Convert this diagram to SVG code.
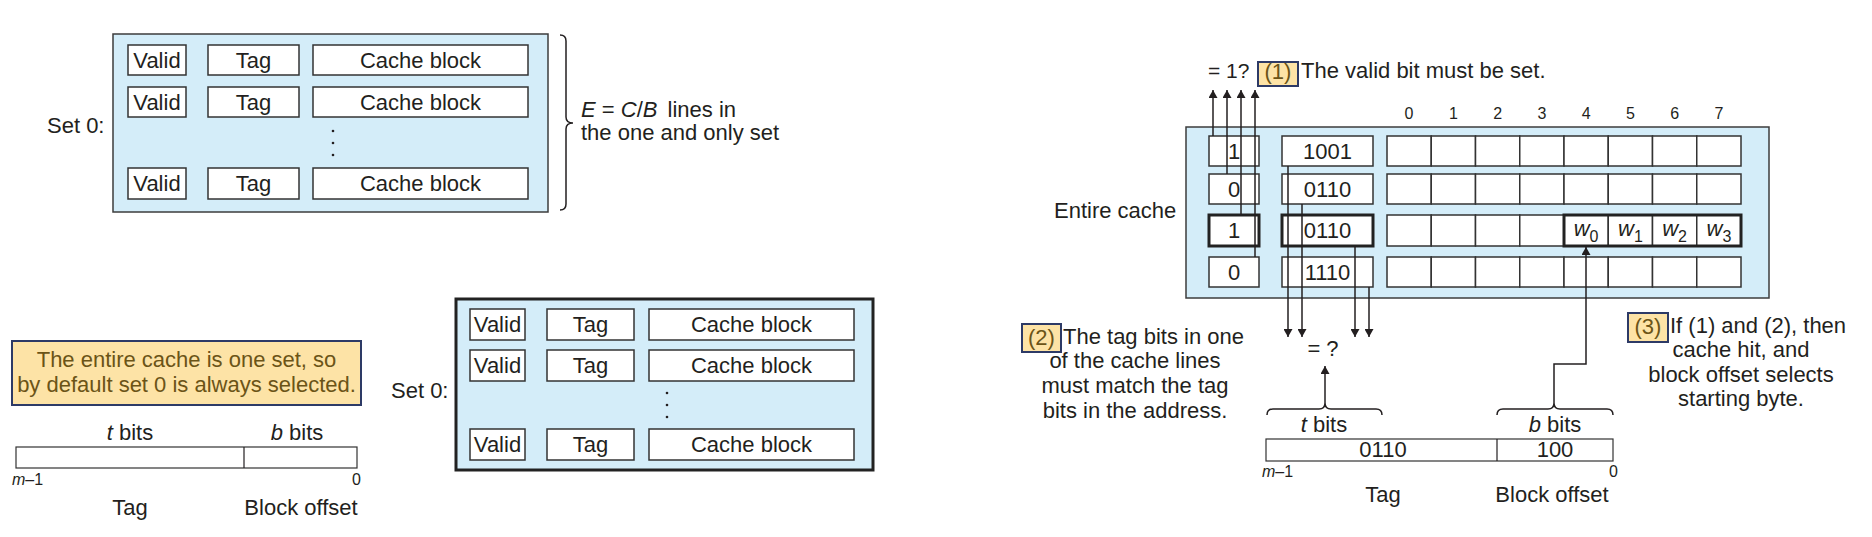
<svg xmlns="http://www.w3.org/2000/svg" width="1872" height="537" viewBox="0 0 1872 537">
<style>
text{font-family:"Liberation Sans",Arial,Helvetica,sans-serif;font-size:22px;fill:#231f20}
.m{text-anchor:middle}
.e{text-anchor:end}
.sm{font-size:16px}
.it{font-style:italic}
.blue{fill:#d4edf9;stroke:#3c3c3c;stroke-width:1.5}
.blueb{fill:#d4edf9;stroke:#222;stroke-width:3}
.cell{fill:#fff;stroke:#333;stroke-width:1.5}
.thick{fill:#fff;stroke:#222;stroke-width:3}
.thk{fill:none;stroke:#222;stroke-width:3}
.note{fill:#fde3a6;stroke:#2d3a66;stroke-width:2}
.nt{fill:#6b5417}
.ln{fill:none;stroke:#231f20;stroke-width:1.5}
.ar{fill:none;stroke:#231f20;stroke-width:1.5;marker-end:url(#ah)}
.dot{fill:#231f20}
</style>
<defs>
<marker id="ah" markerUnits="userSpaceOnUse" markerWidth="9" markerHeight="9" refX="8" refY="4.5" orient="auto">
<path d="M0,0 L8,4.5 L0,9 Z" fill="#231f20"/>
</marker>
</defs>
<rect width="1872" height="537" fill="#fff"/>

<!-- Top-left: fully associative set -->
<g id="set0-top">
<text x="47" y="133">Set 0:</text>
<rect class="blue" x="113" y="34" width="435" height="178"/>
<rect class="cell" x="128" y="45" width="58" height="30"/>
<rect class="cell" x="208" y="45" width="91" height="30"/>
<rect class="cell" x="313" y="45" width="215" height="30"/>
<text class="m" x="157" y="68">Valid</text>
<text class="m" x="253.5" y="68">Tag</text>
<text class="m" x="420.5" y="68">Cache block</text>
<rect class="cell" x="128" y="87" width="58" height="30"/>
<rect class="cell" x="208" y="87" width="91" height="30"/>
<rect class="cell" x="313" y="87" width="215" height="30"/>
<text class="m" x="157" y="110">Valid</text>
<text class="m" x="253.5" y="110">Tag</text>
<text class="m" x="420.5" y="110">Cache block</text>
<circle class="dot" cx="333" cy="131" r="1.3"/>
<circle class="dot" cx="333" cy="143" r="1.3"/>
<circle class="dot" cx="333" cy="155" r="1.3"/>
<rect class="cell" x="128" y="168" width="58" height="31"/>
<rect class="cell" x="208" y="168" width="91" height="31"/>
<rect class="cell" x="313" y="168" width="215" height="31"/>
<text class="m" x="157" y="191">Valid</text>
<text class="m" x="253.5" y="191">Tag</text>
<text class="m" x="420.5" y="191">Cache block</text>
</g>
<g id="brace-lines">
<path class="ln" d="M560,35 Q566,35 566,41 L566,117 Q566,123 573,123 Q566,123 566,129 L566,204 Q566,210 560,210"/>
<text x="581" y="117"><tspan class="it">E</tspan> = <tspan class="it">C</tspan>/<tspan class="it">B</tspan>  <tspan dx="4">lines in</tspan></text>
<text x="581" y="140">the one and only set</text>
</g>

<!-- Bottom-left: note and address -->
<g id="note-default">
<rect class="note" x="12" y="341" width="349" height="64"/>
<text class="m nt" x="186.5" y="367">The entire cache is one set, so</text>
<text class="m nt" x="186.5" y="392">by default set 0 is always selected.</text>
</g>
<g id="address-left">
<text class="m" x="130" y="440"><tspan class="it">t</tspan> bits</text>
<text class="m" x="297" y="440"><tspan class="it">b</tspan> bits</text>
<rect class="cell" x="16" y="447" width="341" height="21" style="stroke-width:1.2"/>
<line class="ln" x1="244" y1="447" x2="244" y2="468" style="stroke-width:1.2"/>
<text class="sm" x="12" y="485"><tspan class="it">m</tspan>–1</text>
<text class="sm e" x="361" y="485">0</text>
<text class="m" x="130" y="515">Tag</text>
<text class="m" x="301" y="515">Block offset</text>
</g>

<!-- Bottom-middle: set 0 -->
<g id="set0-bottom">
<text x="391" y="398">Set 0:</text>
<rect class="blueb" x="456" y="299" width="417" height="171"/>
<rect class="cell" x="470" y="309" width="55" height="31"/>
<rect class="cell" x="547" y="309" width="87" height="31"/>
<rect class="cell" x="649" y="309" width="205" height="31"/>
<text class="m" x="497.5" y="332">Valid</text>
<text class="m" x="590.5" y="332">Tag</text>
<text class="m" x="751.5" y="332">Cache block</text>
<rect class="cell" x="470" y="350" width="55" height="31"/>
<rect class="cell" x="547" y="350" width="87" height="31"/>
<rect class="cell" x="649" y="350" width="205" height="31"/>
<text class="m" x="497.5" y="373">Valid</text>
<text class="m" x="590.5" y="373">Tag</text>
<text class="m" x="751.5" y="373">Cache block</text>
<circle class="dot" cx="667" cy="393" r="1.3"/>
<circle class="dot" cx="667" cy="405" r="1.3"/>
<circle class="dot" cx="667" cy="417" r="1.3"/>
<rect class="cell" x="470" y="429" width="55" height="31"/>
<rect class="cell" x="547" y="429" width="87" height="31"/>
<rect class="cell" x="649" y="429" width="205" height="31"/>
<text class="m" x="497.5" y="452">Valid</text>
<text class="m" x="590.5" y="452">Tag</text>
<text class="m" x="751.5" y="452">Cache block</text>
</g>

<!-- Right: entire cache -->
<g id="step1-label">
<text x="1208" y="78" style="font-size:21px">= 1?</text>
<rect class="note" x="1258" y="62" width="40" height="24"/>
<text class="m nt" x="1278" y="79">(1)</text>
<text x="1301" y="78">The valid bit must be set.</text>
</g>
<g id="entire-cache">
<text x="1054" y="218">Entire cache</text>
<text class="m sm" x="1409" y="119">0</text>
<text class="m sm" x="1453.4" y="119">1</text>
<text class="m sm" x="1497.6" y="119">2</text>
<text class="m sm" x="1541.9" y="119">3</text>
<text class="m sm" x="1586.1" y="119">4</text>
<text class="m sm" x="1630.4" y="119">5</text>
<text class="m sm" x="1674.6" y="119">6</text>
<text class="m sm" x="1718.9" y="119">7</text>
<rect class="blue" x="1186" y="127" width="583" height="171"/>
<!-- row 1 -->
<rect class="cell" x="1209" y="136" width="50" height="30"/>
<rect class="cell" x="1282" y="136" width="91" height="30"/>
<g id="row1-cells">
<rect class="cell" x="1387" y="136" width="44.25" height="30"/>
<rect class="cell" x="1431.25" y="136" width="44.25" height="30"/>
<rect class="cell" x="1475.5" y="136" width="44.25" height="30"/>
<rect class="cell" x="1519.75" y="136" width="44.25" height="30"/>
<rect class="cell" x="1564" y="136" width="44.25" height="30"/>
<rect class="cell" x="1608.25" y="136" width="44.25" height="30"/>
<rect class="cell" x="1652.5" y="136" width="44.25" height="30"/>
<rect class="cell" x="1696.75" y="136" width="44.25" height="30"/>
</g>
<text class="m" x="1234" y="159">1</text>
<text class="m" x="1327.5" y="159">1001</text>
<!-- row 2 -->
<rect class="cell" x="1209" y="174" width="50" height="30"/>
<rect class="cell" x="1282" y="174" width="91" height="30"/>
<g id="row2-cells">
<rect class="cell" x="1387" y="174" width="44.25" height="30"/>
<rect class="cell" x="1431.25" y="174" width="44.25" height="30"/>
<rect class="cell" x="1475.5" y="174" width="44.25" height="30"/>
<rect class="cell" x="1519.75" y="174" width="44.25" height="30"/>
<rect class="cell" x="1564" y="174" width="44.25" height="30"/>
<rect class="cell" x="1608.25" y="174" width="44.25" height="30"/>
<rect class="cell" x="1652.5" y="174" width="44.25" height="30"/>
<rect class="cell" x="1696.75" y="174" width="44.25" height="30"/>
</g>
<text class="m" x="1234" y="197">0</text>
<text class="m" x="1327.5" y="197">0110</text>
<!-- row 3 (selected) -->
<rect class="thick" x="1209" y="215" width="50" height="31"/>
<rect class="thick" x="1282" y="215" width="91" height="31"/>
<g id="row3-cells">
<rect class="cell" x="1387" y="215" width="44.25" height="31"/>
<rect class="cell" x="1431.25" y="215" width="44.25" height="31"/>
<rect class="cell" x="1475.5" y="215" width="44.25" height="31"/>
<rect class="cell" x="1519.75" y="215" width="44.25" height="31"/>
<rect class="cell" x="1564" y="215" width="44.25" height="31"/>
<rect class="cell" x="1608.25" y="215" width="44.25" height="31"/>
<rect class="cell" x="1652.5" y="215" width="44.25" height="31"/>
<rect class="cell" x="1696.75" y="215" width="44.25" height="31"/>
<rect class="thk" x="1564" y="215" width="177" height="31"/>
</g>
<text class="m" x="1234" y="238">1</text>
<text class="m" x="1327.5" y="238">0110</text>
<text class="m" x="1586.1" y="236"><tspan class="it">w</tspan><tspan class="sm" dy="6">0</tspan></text>
<text class="m" x="1630.4" y="236"><tspan class="it">w</tspan><tspan class="sm" dy="6">1</tspan></text>
<text class="m" x="1674.6" y="236"><tspan class="it">w</tspan><tspan class="sm" dy="6">2</tspan></text>
<text class="m" x="1718.9" y="236"><tspan class="it">w</tspan><tspan class="sm" dy="6">3</tspan></text>
<!-- row 4 -->
<rect class="cell" x="1209" y="257" width="50" height="30"/>
<rect class="cell" x="1282" y="257" width="91" height="30"/>
<g id="row4-cells">
<rect class="cell" x="1387" y="257" width="44.25" height="30"/>
<rect class="cell" x="1431.25" y="257" width="44.25" height="30"/>
<rect class="cell" x="1475.5" y="257" width="44.25" height="30"/>
<rect class="cell" x="1519.75" y="257" width="44.25" height="30"/>
<rect class="cell" x="1564" y="257" width="44.25" height="30"/>
<rect class="cell" x="1608.25" y="257" width="44.25" height="30"/>
<rect class="cell" x="1652.5" y="257" width="44.25" height="30"/>
<rect class="cell" x="1696.75" y="257" width="44.25" height="30"/>
</g>
<text class="m" x="1234" y="280">0</text>
<text class="m" x="1327.5" y="280">1110</text>
</g>

<g id="compare-label">
<text class="m" x="1323" y="356">= ?</text>
</g>

<g id="step2-label">
<rect class="note" x="1022" y="324" width="39" height="28"/>
<text class="m nt" x="1041.5" y="345">(2)</text>
<text x="1063" y="344">The tag bits in one</text>
<text class="m" x="1135" y="368">of the cache lines</text>
<text class="m" x="1135" y="393">must match the tag</text>
<text class="m" x="1135" y="418">bits in the address.</text>
</g>

<g id="step3-label">
<rect class="note" x="1628" y="313" width="40" height="29"/>
<text class="m nt" x="1648" y="334">(3)</text>
<text x="1670" y="333">If (1) and (2), then</text>
<text class="m" x="1741" y="357">cache hit, and</text>
<text class="m" x="1741" y="382">block offset selects</text>
<text class="m" x="1741" y="406">starting byte.</text>
</g>

<g id="address-right">
<path class="ln" d="M1267,415 Q1267,409 1273,409 L1319,409 Q1325,409 1325,403 Q1325,409 1331,409 L1376,409 Q1382,409 1382,415"/>
<path class="ln" d="M1497,415 Q1497,409 1503,409 L1548,409 Q1554,409 1554,403 Q1554,409 1560,409 L1607,409 Q1613,409 1613,415"/>
<text class="m" x="1324" y="432"><tspan class="it">t</tspan> bits</text>
<text class="m" x="1555" y="432"><tspan class="it">b</tspan> bits</text>
<rect class="cell" x="1266" y="439" width="347" height="22" style="stroke-width:1.2"/>
<line class="ln" x1="1497" y1="439" x2="1497" y2="461" style="stroke-width:1.2"/>
<text class="m" x="1383" y="457">0110</text>
<text class="m" x="1555" y="457">100</text>
<text class="sm" x="1262" y="477"><tspan class="it">m</tspan>–1</text>
<text class="sm e" x="1618" y="477">0</text>
<text class="m" x="1383" y="502">Tag</text>
<text class="m" x="1552" y="502">Block offset</text>
</g>

<g id="connectors">
<path class="ar" d="M1213,136 L1213,90"/>
<path class="ar" d="M1227,174 L1227,90"/>
<path class="ar" d="M1241,215 L1241,90"/>
<path class="ar" d="M1255,257 L1255,90"/>
<path class="ar" d="M1288,166 L1288,337"/>
<path class="ar" d="M1302,204 L1302,337"/>
<path class="ar" d="M1355,246 L1355,337"/>
<path class="ar" d="M1369,287 L1369,337"/>
<path class="ar" d="M1325,403 L1325,366"/>
<path class="ar" d="M1554,403 L1554,364 L1586,364 L1586,247"/>
</g>
</svg>
